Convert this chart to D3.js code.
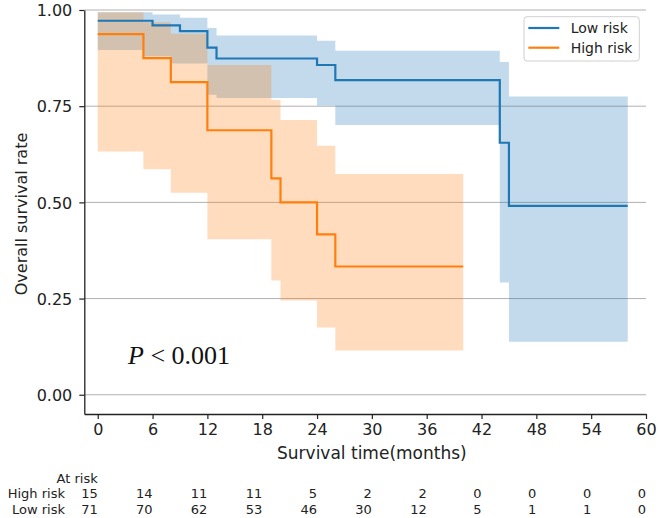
<!DOCTYPE html>
<html>
<head>
<meta charset="utf-8">
<script src="https://cdn.jsdelivr.net/npm/d3@7"></script>
<style>
  html, body { margin: 0; padding: 0; background: #fff; }
  svg { display: block; font-family: "DejaVu Sans", sans-serif; }
</style>
</head>
<body>
<svg id="chart" width="660" height="518"></svg>
<script>
// ---------------- data ----------------
const seriesNames = ["Low risk", "High risk"];
const seriesColors = ["#1f77b4", "#ff7f0e"];

// Low risk KM curve
const lowTimes = [0, 6, 9, 12, 13, 24, 26, 44, 45];
const lowSurv  = [0.972, 0.960, 0.945, 0.902, 0.874, 0.857, 0.818, 0.655, 0.491];
const lowEnd = 58;
// Low risk confidence band
const lowBandTimes = [0, 5, 6, 8, 9, 12, 13, 24, 26, 44, 45];
const lowUpper = [0.994, 0.994, 0.988, 0.988, 0.980, 0.953, 0.934, 0.920, 0.894, 0.865, 0.775];
const lowLower = [0.896, 0.880, 0.880, 0.861, 0.861, 0.780, 0.771, 0.752, 0.701, 0.292, 0.138];

// High risk KM curve
const highTimes = [0, 5, 8, 12, 19, 20, 24, 26];
const highSurv  = [0.9375, 0.875, 0.8125, 0.6875, 0.5625, 0.5, 0.4167, 0.3333];
const highEnd = 40;
const highUpper = [0.994, 0.968, 0.938, 0.857, 0.766, 0.714, 0.647, 0.574];
const highLower = [0.632, 0.586, 0.525, 0.404, 0.297, 0.245, 0.175, 0.115];

const xTicks = [0, 6, 12, 18, 24, 30, 36, 42, 48, 54, 60];
const yTicks = [0, 0.25, 0.5, 0.75, 1.0];
const atRiskHigh = [15, 14, 11, 11, 5, 2, 2, 0, 0, 0, 0];
const atRiskLow  = [71, 70, 62, 53, 46, 30, 12, 5, 1, 1, 0];

const xLabel = "Survival time(months)";
const yLabel = "Overall survival rate";

// ---------------- layout ----------------
const svg = d3.select("#chart");
svg.append("rect").attr("width", 660).attr("height", 518).attr("fill", "#fff");

const x = d3.scaleLinear().domain([-1.47, 60]).range([84.3, 646]);
const y = d3.scaleLinear().domain([-0.05, 1.0]).range([414, 10]);

// grid
svg.append("g").selectAll("line").data(yTicks).join("line")
  .attr("x1", x.range()[0]).attr("x2", x.range()[1])
  .attr("y1", d => y(d)).attr("y2", d => y(d))
  .attr("stroke", "#b0b0b0").attr("stroke-width", 1);

function stepPts(times, vals, end) {
  const pts = times.map((t, i) => [t, vals[i]]);
  pts.push([end, vals[vals.length - 1]]);
  return pts;
}
function bandPts(times, lo, hi, end) {
  const pts = times.map((t, i) => ({t, lo: lo[i], hi: hi[i]}));
  pts.push({t: end, lo: lo[lo.length - 1], hi: hi[hi.length - 1]});
  return pts;
}

const area = d3.area().curve(d3.curveStepAfter)
  .x(d => x(d.t)).y0(d => y(d.lo)).y1(d => y(d.hi));
const line = d3.line().curve(d3.curveStepAfter)
  .x(d => x(d[0])).y(d => y(d[1]));

// bands
svg.append("path").datum(bandPts(lowBandTimes, lowLower, lowUpper, lowEnd))
  .attr("d", area).attr("fill", seriesColors[0]).attr("fill-opacity", 0.27);
svg.append("path").datum(bandPts(highTimes, highLower, highUpper, highEnd))
  .attr("d", area).attr("fill", seriesColors[1]).attr("fill-opacity", 0.27);

// lines
svg.append("path").datum(stepPts(lowTimes, lowSurv, lowEnd))
  .attr("d", line).attr("fill", "none").attr("stroke", seriesColors[0]).attr("stroke-width", 2.2);
svg.append("path").datum(stepPts(highTimes, highSurv, highEnd))
  .attr("d", line).attr("fill", "none").attr("stroke", seriesColors[1]).attr("stroke-width", 2.2);

// axes
const yAxis = svg.append("g").attr("transform", `translate(${x.range()[0]},0)`)
  .call(d3.axisLeft(y).tickValues(yTicks).tickFormat(d3.format(".2f")).tickSize(5).tickSizeOuter(0));
const xAxis = svg.append("g").attr("transform", `translate(0,${y.range()[0]})`)
  .call(d3.axisBottom(x).tickValues(xTicks).tickSize(5).tickSizeOuter(0));
[yAxis, xAxis].forEach(g => {
  g.select(".domain").attr("stroke", "#222").attr("stroke-width", 1.3);
  g.selectAll(".tick line").attr("stroke", "#222").attr("stroke-width", 1.2);
  g.selectAll(".tick text").attr("fill", "#222").attr("font-size", 16)
    .attr("font-family", "DejaVu Sans");
});
yAxis.selectAll(".tick text").attr("x", -12).attr("dy", "0.36em");
xAxis.selectAll(".tick text").attr("y", 9).attr("dy", "0.76em");

// axis labels
svg.append("text").attr("x", x(30)).attr("y", 459).attr("text-anchor", "middle")
  .attr("font-size", 17).attr("fill", "#222").text(xLabel);
svg.append("text").attr("transform", `translate(27,${(y(1) + y(-0.05)) / 2 + 2}) rotate(-90)`)
  .attr("text-anchor", "middle").attr("font-size", 16).attr("fill", "#222").text(yLabel);

// P value
const pt = svg.append("text").attr("x", 128).attr("y", 364.3)
  .attr("font-family", "Liberation Serif, Times New Roman, serif")
  .attr("font-size", 26).attr("fill", "#111").attr("xml:space", "preserve");
pt.append("tspan").attr("font-style", "italic").text("P");
pt.append("tspan").text(" < 0.001");

// legend
const lg = svg.append("g");
lg.append("rect").attr("x", 524).attr("y", 16.7).attr("width", 115.3).attr("height", 44.3)
  .attr("rx", 3).attr("fill", "#fff").attr("fill-opacity", 0.85).attr("stroke", "#d0d0d0");
seriesNames.forEach((n, i) => {
  const yy = 28 + i * 19.7;
  lg.append("line").attr("x1", 528.3).attr("x2", 559.3).attr("y1", yy).attr("y2", yy)
    .attr("stroke", seriesColors[i]).attr("stroke-width", 2.2);
  lg.append("text").attr("x", 570.7).attr("y", yy + 5.3).attr("font-size", 14)
    .attr("fill", "#222").text(n);
});

// at risk table
const tbl = svg.append("g").attr("font-size", 13).attr("fill", "#222");
tbl.append("text").attr("x", x(0)).attr("y", 482.8).attr("text-anchor", "end").text("At risk");
tbl.append("text").attr("x", 65).attr("y", 498.2).attr("text-anchor", "end").text("High risk");
tbl.append("text").attr("x", 65).attr("y", 513.6).attr("text-anchor", "end").text("Low risk");
xTicks.forEach((t, i) => {
  tbl.append("text").attr("x", x(t)).attr("y", 498.2).attr("text-anchor", "end").text(atRiskHigh[i]);
  tbl.append("text").attr("x", x(t)).attr("y", 513.6).attr("text-anchor", "end").text(atRiskLow[i]);
});
</script>
</body>
</html>
